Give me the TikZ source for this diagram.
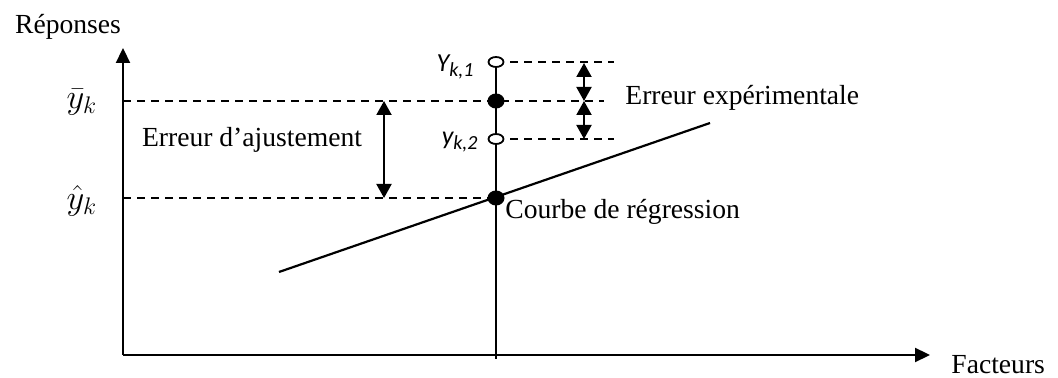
\documentclass[tikz,border=0pt]{standalone}
\usepackage{fontspec}
\setmainfont{Liberation Serif}
\newfontfamily\calfont{Carlito}
\usetikzlibrary{shapes.geometric, arrows.meta, positioning, calc}

\begin{document}
\begin{tikzpicture}[
        x=0.5pt, y=-0.5pt,
        font=\fontsize{13.8}{15}\selectfont,
        axis/.style={-{Triangle[length=7.5pt, width=7pt]}, line width=1.1pt},
        guide/.style={line width=0.8pt, dash pattern=on 4pt off 3pt},
        gap/.style={{Triangle[length=7pt, width=7.5pt]}-{Triangle[length=7pt, width=7.5pt]}, line width=1pt},
        meas/.style={ellipse, draw, line width=0.9pt, fill=white, minimum width=7.5pt, minimum height=5pt, inner sep=0pt},
        mean/.style={ellipse, fill=black, minimum width=8.5pt, minimum height=7.5pt, inner sep=0pt},
        lbl/.style={inner sep=0pt},
        idx/.style={inner sep=0pt, font=\calfont\itshape\fontsize{13}{14}\selectfont}
    ]
        \useasboundingbox (0,0) rectangle (1058,378);
        % axes
        \coordinate (o) at (123,355);
        \coordinate (ytop) at (123,48);
        \coordinate (xend) at (930,355);
        \draw[axis] (o) -- (ytop);
        \draw[axis] (o) -- (xend);
        \node[lbl] (rep) at (68,27) {Réponses};
        \node[lbl, anchor=base west] (fac) at (951,373) {Facteurs};
        % regression line
        \coordinate (rega) at (279,272);
        \coordinate (regb) at (710,123);
        \draw[line width=1.1pt] (rega) -- (regb);
        % level k
        \coordinate (kone) at (496,62);
        \coordinate (kbar) at (496,101);
        \coordinate (ktwo) at (496,139);
        \coordinate (khat) at (496,198);
        \coordinate (kbot) at (496,359);
        \draw[line width=1pt] (kone) -- (kbot);
        \coordinate (barax) at (o |- kbar);
        \coordinate (hatax) at (o |- khat);
        \coordinate (oneend) at (614,62);
        \coordinate (barend) at (604,101);
        \coordinate (twoend) at (614,139);
        \draw[guide] (barax) -- (kbar) -- (barend);
        \draw[guide] (hatax) -- (khat);
        \draw[guide] (kone) -- (oneend);
        \draw[guide] (ktwo) -- (twoend);
        \node[meas] (yone) at (kone) {};
        \node[mean] (ybar) at (kbar) {};
        \node[meas] (ytwo) at (ktwo) {};
        \node[mean] (yhat) at (khat) {};
        % errors
        \draw[gap] (384,101) -- (384,198);
        \draw[gap] (584,63) -- (584,101);
        \draw[gap] (584,101) -- (584,139);
        % labels
        \node[idx, anchor=east] (yonelbl) at (474,67) {Y\raisebox{-0.45ex}{\fontsize{10}{10}\selectfont k,1}};
        \node[idx, anchor=east] (ytwolbl) at (478,142) {y\raisebox{-0.45ex}{\fontsize{10}{10}\selectfont k,2}};
        \node[lbl, font=\fontsize{17}{18}\selectfont] (ybarlbl) at (82,102) {$\bar{y}_k$};
        \node[lbl, font=\fontsize{17}{18}\selectfont] (yhatlbl) at (82,201) {$\hat{y}_k$};
        \node[lbl] (ajust) at (252,140) {Erreur d’ajustement};
        \node[lbl, anchor=west] (expe) at (625,98) {Erreur expérimentale};
        \node[lbl, anchor=west] (courbe) at (505,212) {Courbe de régression};
\end{tikzpicture}
\end{document}
